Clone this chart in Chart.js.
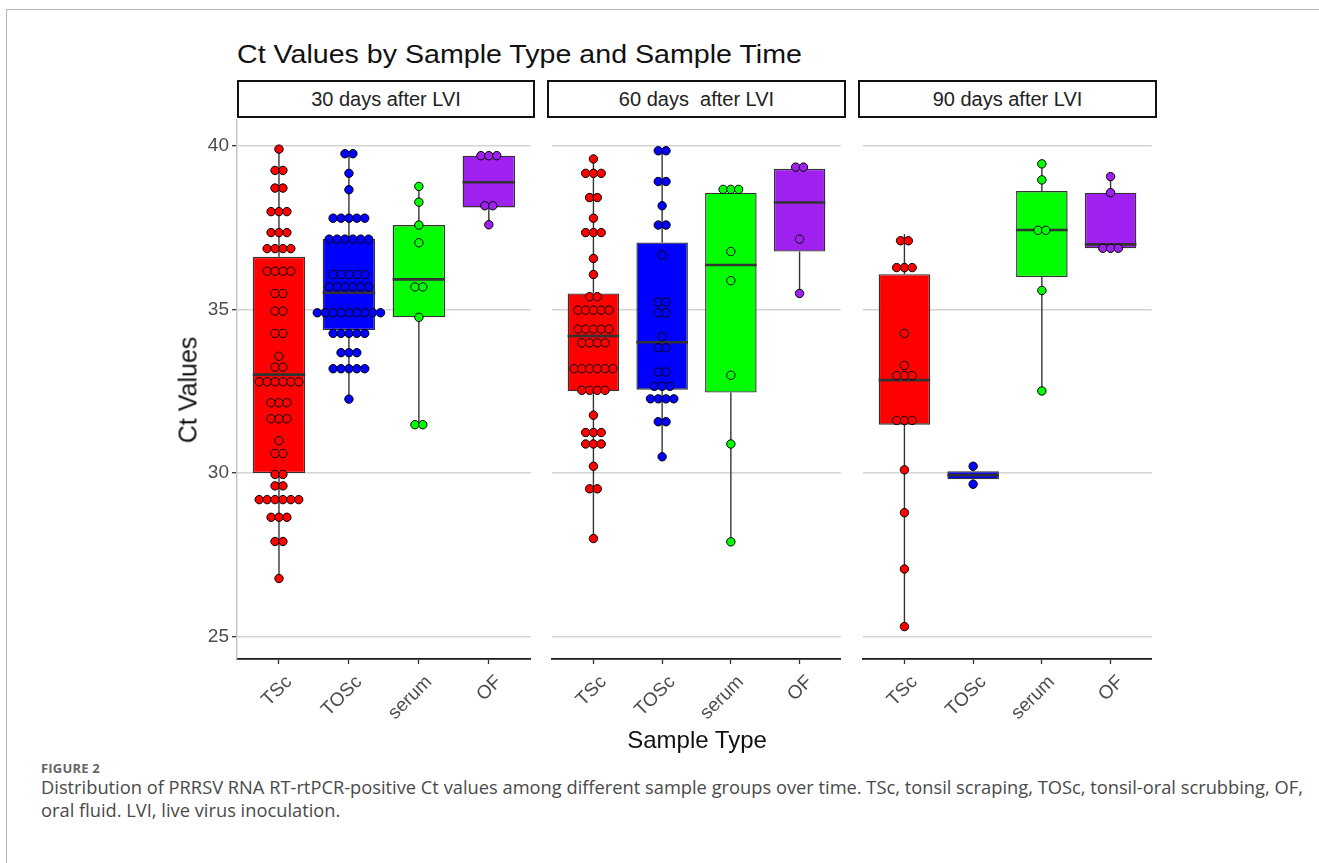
<!DOCTYPE html>
<html>
<head>
<meta charset="utf-8">
<script src="https://cdn.jsdelivr.net/npm/chart.js@4.4.0/dist/chart.umd.min.js"></script>
<style>
  body { margin: 0; background: #fff; width: 1319px; height: 863px; overflow: hidden; position: relative;
         font-family: "Liberation Sans", Arial, sans-serif; }
  .frame { position: absolute; left: 6px; top: 9px; width: 1330px; height: 870px;
           border-left: 1px solid #b3b3b3; border-top: 1px solid #b3b3b3; }
  .title { position: absolute; left: 237px; top: 38px; font-size: 26px; line-height: 32px; color: #111;
           transform: scaleX(1.1); transform-origin: left center; white-space: nowrap; }
  .strip { position: absolute; top: 80px; height: 34px; border: 2px solid #111; background: #fff;
           font-size: 20px; line-height: 34px; color: #222; text-align: center; white-space: pre; }
  .panel { position: absolute; top: 105px; }
  .ytitle { position: absolute; left: 188px; top: 390px; font-size: 25px; color: #111;
            transform: translate(-50%, -50%) rotate(-90deg); white-space: nowrap; }
  .xtitle { position: absolute; left: 697px; top: 740px; font-size: 24px; color: #111;
            transform: translate(-50%, -50%); white-space: nowrap; }
  .figlabel { position: absolute; left: 41px; top: 759px; font-family: "Open Sans", sans-serif;
              font-size: 13px; line-height: 18px; font-weight: 700; color: #666; letter-spacing: 0.2px; }
  .caption { position: absolute; left: 41px; top: 775px; font-family: "Open Sans", sans-serif;
             font-size: 18.3px; line-height: 23px; color: #4a4a4a; white-space: nowrap; }
</style>
</head>
<body>
<div class="frame"></div>
<div class="title">Ct Values by Sample Type and Sample Time</div>

<div class="strip" id="s0" style="left:237px;width:294px;"></div>
<div class="strip" id="s1" style="left:547px;width:295px;"></div>
<div class="strip" id="s2" style="left:858px;width:295px;"></div>

<div class="panel" style="left:177px;"><canvas id="p0" width="359" height="634"></canvas></div>
<div class="panel" style="left:547px;"><canvas id="p1" width="299" height="634"></canvas></div>
<div class="panel" style="left:858px;"><canvas id="p2" width="299" height="634"></canvas></div>

<div class="ytitle">Ct Values</div>
<div class="xtitle">Sample Type</div>

<div class="figlabel">FIGURE 2</div>
<div class="caption">Distribution of PRRSV RNA RT-rtPCR-positive Ct values among different sample groups over time. TSc, tonsil scraping, TOSc, tonsil-oral scrubbing, OF,<br>oral fluid. LVI, live virus inoculation.</div>

<script>
const sampleTypes = ['TSc', 'TOSc', 'serum', 'OF'];
const boxColors = ['#ff0000', '#0000ff', '#00ff00', '#a020f0'];
const panelTitles = ['30 days after LVI', '60 days  after LVI', '90 days after LVI'];
const yTicks = [25, 30, 35, 40];

// Ct values (repeated values = dots stacked side by side)
const tsc30 = [39.9, 39.25, 39.25, 38.71, 38.71, 37.99, 37.99, 37.99, 37.35, 37.35, 37.35,
  36.86, 36.86, 36.86, 36.86, 36.17, 36.17, 36.17, 36.17, 35.49, 35.49, 34.95, 34.95,
  34.27, 34.27, 33.57, 33.24, 33.24, 32.79, 32.79, 32.79, 32.79, 32.79, 32.79,
  32.15, 32.15, 32.15, 31.66, 31.66, 31.66, 30.99, 30.6, 30.6, 29.96, 29.96, 29.61, 29.61,
  29.19, 29.19, 29.19, 29.19, 29.19, 29.19, 28.65, 28.65, 28.65, 27.91, 27.91, 26.78];
const tosc30 = [39.76, 39.76, 39.16, 38.66, 37.79, 37.79, 37.79, 37.79, 37.79,
  37.15, 37.15, 37.15, 37.15, 37.15, 37.15, 36.07, 36.07, 36.07, 36.07, 36.07,
  35.69, 35.69, 35.69, 35.69, 35.69, 35.69, 34.9, 34.9, 34.9, 34.9, 34.9, 34.9, 34.9, 34.9, 34.9,
  34.27, 34.27, 34.27, 34.27, 34.27, 33.68, 33.68, 33.68, 33.19, 33.19, 33.19, 33.19, 33.19, 32.26];
const serum30 = [38.76, 38.28, 37.58, 37.04, 35.69, 35.69, 34.76, 31.48, 31.48];
const of30 = [39.7, 39.7, 39.7, 38.17, 38.17, 37.59];

const tsc60 = [39.6, 39.16, 39.16, 39.16, 38.42, 38.42, 37.79, 37.35, 37.35, 37.35, 36.56, 36.07,
  35.39, 35.39, 34.98, 34.98, 34.98, 34.98, 34.98, 34.4, 34.4, 34.4, 34.4, 34.4,
  33.98, 33.98, 33.98, 33.98, 33.19, 33.19, 33.19, 33.19, 33.19, 33.19, 32.53, 32.53, 32.53, 32.53,
  31.77, 31.24, 31.24, 31.24, 30.89, 30.89, 30.89, 30.21, 29.52, 29.52, 28.0];
const tosc60 = [39.85, 39.85, 38.91, 38.91, 38.17, 37.58, 37.58, 36.66, 35.23, 35.23, 34.9, 34.9,
  34.17, 33.83, 33.83, 33.09, 33.09, 32.65, 32.65, 32.65, 32.27, 32.27, 32.27, 32.27,
  31.57, 31.57, 30.5];
const serum60 = [38.67, 38.67, 38.67, 36.77, 35.88, 32.99, 30.89, 27.9];
const of60 = [39.35, 39.35, 37.15, 35.49];

const tsc90 = [37.1, 37.1, 36.28, 36.28, 36.28, 34.27, 33.29, 32.98, 32.98, 32.98,
  31.61, 31.61, 31.61, 30.1, 28.79, 27.07, 25.31];
const tosc90 = [30.21, 29.66];
const serum90 = [39.45, 38.96, 37.42, 37.42, 35.58, 32.51];
const of90 = [39.06, 38.57, 36.87, 36.87, 36.87];

// box stats per sample type: [q1, median, q3, lower whisker, upper whisker]
const box30 = [[30.0, 33.01, 36.61, 26.78, 39.9], [34.37, 35.51, 37.15, 32.26, 39.76],
  [34.76, 35.92, 37.58, 31.48, 38.76], [38.12, 38.89, 39.7, 37.59, 39.8]];
const box60 = [[32.5, 34.19, 35.49, 28.0, 39.6], [32.55, 34.0, 37.05, 30.5, 39.85],
  [32.46, 36.36, 38.57, 27.9, 38.8], [36.77, 38.27, 39.3, 35.49, 39.35]];
const box90 = [[31.48, 32.84, 36.08, 25.31, 37.31], [29.81, 29.94, 30.06, 29.66, 30.21],
  [35.99, 37.43, 38.62, 32.51, 39.45], [36.87, 36.99, 38.57, 36.87, 39.06]];

const panels = [
  { dots: [tsc30, tosc30, serum30, of30], box: box30 },
  { dots: [tsc60, tosc60, serum60, of60], box: box60 },
  { dots: [tsc90, tosc90, serum90, of90], box: box90 }
];

const DOT_STEP = 0.113;   // dot diameter in x units
const HALF_BOX = 0.375;
const axisFont = { family: '"Liberation Sans", Arial, sans-serif', size: 19 };

// centre the dots that share a value around the category
function stackDots(values, xc) {
  const counts = {};
  values.forEach(v => { counts[v] = (counts[v] || 0) + 1; });
  const pts = [];
  Object.keys(counts).forEach(k => {
    const n = counts[k];
    for (let j = 0; j < n; j++) {
      pts.push({ x: xc + (j - (n - 1) / 2) * DOT_STEP, y: Number(k) });
    }
  });
  return pts;
}

function buildDatasets(panel) {
  const ds = [];
  panel.dots.forEach((vals, i) => {
    ds.push({
      type: 'scatter', data: stackDots(vals, i + 1),
      backgroundColor: boxColors[i], borderColor: '#000', borderWidth: 1,
      pointRadius: 4.2, pointHoverRadius: 4.2, order: 1
    });
  });
  const med = [], whisk = [];
  panel.box.forEach((b, i) => {
    const x = i + 1;
    med.push({ x: x - HALF_BOX, y: b[1] }, { x: x + HALF_BOX, y: b[1] }, { x: x, y: null });
    whisk.push({ x: x, y: b[3] }, { x: x, y: b[0] }, { x: x, y: null },
               { x: x, y: b[2] }, { x: x, y: b[4] }, { x: x, y: null });
  });
  ds.push({ type: 'line', data: med, borderColor: '#333', borderWidth: 2.6, pointRadius: 0,
            spanGaps: false, fill: false, order: 2 });
  ds.push({ type: 'line', data: whisk, borderColor: '#333', borderWidth: 1.4, pointRadius: 0,
            spanGaps: false, fill: false, order: 3 });
  ds.push({
    type: 'bar', data: panel.box.map((b, i) => ({ x: i + 1, y: [b[0], b[2]] })),
    backgroundColor: boxColors, borderColor: '#333', borderWidth: 1.4, borderSkipped: false,
    barPercentage: 0.75, categoryPercentage: 1, order: 4
  });
  return ds;
}

panels.forEach((panel, idx) => {
  document.getElementById('s' + idx).textContent = panelTitles[idx];
  const showY = idx === 0;
  new Chart(document.getElementById('p' + idx), {
    type: 'bar',
    data: { datasets: buildDatasets(panel) },
    options: {
      responsive: false,
      animation: false,
      devicePixelRatio: 1,
      layout: { padding: { top: 15, left: 0, right: 0, bottom: 0 } },
      plugins: { legend: { display: false }, tooltip: { enabled: false } },
      scales: {
        x: {
          type: 'linear', min: 0.4, max: 4.6, offset: false,
          afterBuildTicks: s => { s.ticks = sampleTypes.map((t, i) => ({ value: i + 1 })); },
          afterFit: s => { s.height = 80; },
          ticks: {
            autoSkip: false, minRotation: 45, maxRotation: 45, padding: 7, labelOffset: 10,
            color: '#4d4d4d', font: axisFont,
            callback: v => sampleTypes[v - 1]
          },
          grid: { display: true, drawOnChartArea: false, drawTicks: true, tickLength: 5,
                  tickColor: '#333', tickWidth: 1.3, offset: false },
          border: { display: true, color: '#1a1a1a', width: 1.8 }
        },
        y: {
          min: 24.32, max: 40.79,
          afterBuildTicks: s => { s.ticks = yTicks.map(v => ({ value: v })); },
          afterFit: s => { s.width = showY ? 60 : 0; },
          ticks: { display: showY, color: '#4d4d4d', font: axisFont, padding: 3 },
          grid: { color: '#d4d4d4', lineWidth: 1.4, drawTicks: showY, tickLength: 5,
                  tickColor: '#333', tickWidth: 1.3 },
          border: { display: showY, color: '#c4c4c4', width: 1.4 }
        }
      }
    }
  });
});
</script>
</body>
</html>
